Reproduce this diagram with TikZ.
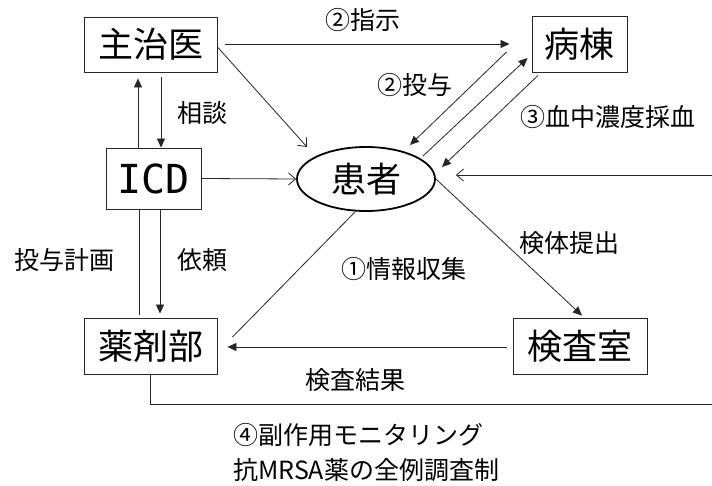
\documentclass[tikz,border=0pt]{standalone}
\usepackage{fontspec}
\setmainfont{Noto Sans CJK JP}
\newfontfamily\icdfont{DejaVu Sans Mono}
\usetikzlibrary{arrows.meta,calc,shapes.geometric}
\begin{document}
\begin{tikzpicture}[x=1pt,y=-1pt,
  box/.style={draw=black!85,line width=0.9pt,inner sep=0pt,font=\fontsize{35}{37}\selectfont},
  ell/.style={draw=black,ellipse,line width=1.8pt,inner sep=0pt,minimum width=138pt,minimum height=64pt,font=\fontsize{35}{37}\selectfont},
  lbl/.style={inner sep=0pt,font=\fontsize{25}{27}\selectfont},
  ln/.style={draw=black!85,line width=0.8pt},
  fa/.style={ln,-{Triangle[length=9pt,width=8pt]}},
  oa/.style={ln,-{Straight Barb[length=7pt,width=12pt,line width=0.8pt]}}
]
\useasboundingbox[fill=white] (0,0) rectangle (712,486);

\node[box,minimum width=133pt,minimum height=55pt] (zhu) at (150.5,44.5) {主治医};
\node[box,minimum width=95pt,minimum height=56pt] (byo) at (579.5,44) {病棟};
\node[box,minimum width=95pt,minimum height=61pt,font=\icdfont\fontsize{40}{42}\selectfont] (icd) at (153.5,178.5) {ICD};
\node[ell] (kan) at (366,179) {患者};
\node[box,minimum width=133pt,minimum height=56pt] (yak) at (150.5,346) {薬剤部};
\node[box,minimum width=134pt,minimum height=56pt] (ken) at (580,346) {検査室};

\coordinate (rt) at (712,175);
\coordinate (bt) at (712,404);

% 主治医 -> 病棟
\draw[fa] ($(zhu.east)+(8,-0.5)$) -- ($(byo.west)+(-22,0)$);
% 主治医 -> 患者
\draw[oa] ($(zhu.east)+(0,2.5)$) -- ($(kan.center)+(-59,-32)$);
% ICD -> 患者
\draw[oa] (icd.east) -- (kan.west);
% ICD <-> 主治医
\draw[fa] ($(icd.north)+(-15.5,0)$) -- ($(zhu.south)+(-12.5,6)$);
\draw[fa] ($(zhu.south)+(10.5,5)$) -- ($(icd.north)+(7.5,0)$);
% ICD -> 薬剤部
\draw[ln] ($(icd.south)+(-14.5,0)$) -- ($(yak.north)+(-11.5,-3)$);
\draw[fa] ($(icd.south)+(6.5,0)$) -- ($(yak.north)+(9.5,-4)$);
% 患者 -- 薬剤部
\draw[ln] ($(kan.center)+(-11,33)$) -- ($(yak.east)+(15,-9)$);
% 検査室 -> 薬剤部
\draw[fa] ($(ken.west)+(-6,1)$) -- ($(yak.east)+(10,1)$);
% 患者 -> 検査室
\draw[fa] (kan.east) -- ($(ken.north)+(2,-2)$);
% 病棟 <-> 患者
\draw[fa] ($(byo.west)+(-25,8)$) -- ($(kan.center)+(44,-34)$);
\draw[fa] ($(kan.center)+(57,-23)$) -- ($(byo.west)+(-4,14)$);
\draw[fa] ($(byo.south)+(-41.5,3)$) -- ($(kan.center)+(76,-12)$);
% right incoming
\draw[oa] (rt) -- ($(kan.east)+(20,-4)$);
% 薬剤部 bottom line
\draw[ln] (yak.south) |- (bt);

% labels
\node[lbl] (l1) at (363,20) {②指示};
\node[lbl] (l2) at (202,113) {相談};
\node[lbl] (l3) at (415,85) {②投与};
\node[lbl] (l4) at (608,117) {③血中濃度採血};
\node[lbl] (l5) at (64,260) {投与計画};
\node[lbl] (l6) at (202,260) {依頼};
\node[lbl] (l7) at (404,269) {①情報収集};
\node[lbl] (l8) at (569,243) {検体提出};
\node[lbl] (l9) at (355,380) {検査結果};
\node[lbl,anchor=west] (l10) at (233,435) {④副作用モニタリング};
\node[lbl,anchor=west] (l11) at (233,470) {抗MRSA薬の全例調査制};
\end{tikzpicture}
\end{document}
